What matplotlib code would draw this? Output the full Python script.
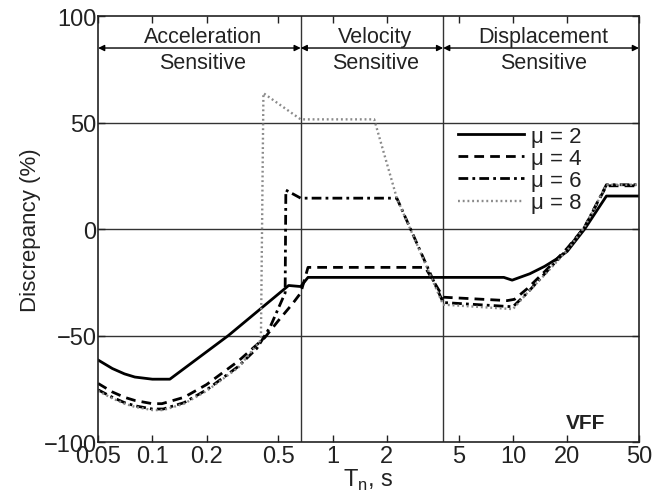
import matplotlib
matplotlib.use("Agg")
import matplotlib.pyplot as plt
from matplotlib.ticker import FixedLocator, FixedFormatter, NullLocator

plt.rcParams["font.family"] = ["Liberation Sans", "DejaVu Sans"]
plt.rcParams["mathtext.fontset"] = "custom"
plt.rcParams["mathtext.rm"] = "Liberation Sans"

# period values (s) and discrepancy (%)
t_mu2 = [0.05, 0.06, 0.07, 0.08, 0.1, 0.125, 0.264, 0.57, 0.665, 0.73, 8.9, 9.9, 12.4, 15, 17.5, 20, 25, 33, 50]
d_mu2 = [-61.5, -65.5, -68, -69.5, -70.5, -70.5, -50, -26.5, -27, -22.7, -22.7, -24, -21, -17.5, -14, -10.5, 0, 15.5, 15.5]

t_mu4 = [0.05, 0.06, 0.07, 0.08, 0.1, 0.113, 0.15, 0.2, 0.3, 0.42, 0.5, 0.6, 0.665, 0.73, 3.26, 4.1, 9.3, 10.2, 12, 15, 20, 25, 33, 50]
d_mu4 = [-72.5, -76.5, -79, -80.5, -82, -82, -79, -73, -62, -51, -43, -35, -30, -18, -18, -32, -33.6, -33, -28, -20, -9, 1, 20.3, 20.3]

t_mu6 = [0.05, 0.06, 0.07, 0.08, 0.1, 0.115, 0.15, 0.2, 0.3, 0.38, 0.45, 0.545, 0.55, 0.665, 2.27, 4.1, 10, 12, 15, 20, 25, 33, 50]
d_mu6 = [-75.5, -79, -81.5, -83, -84.5, -84.5, -81.5, -75.5, -64.5, -56, -46, -30, 18.3, 14.5, 14.5, -34.5, -36.5, -30, -21, -9.5, 1, 20.8, 20.8]

t_mu8 = [0.05, 0.06, 0.07, 0.08, 0.1, 0.115, 0.15, 0.2, 0.3, 0.40, 0.413, 0.665, 1.7, 2.27, 4.1, 10, 12, 15, 20, 25, 33, 50]
d_mu8 = [-76, -79.5, -82, -83.5, -85, -85, -82, -76, -65, -52, 63.8, 51.5, 51.5, 14.5, -35.5, -37.6, -30, -21.5, -10, 1, 20.8, 20.8]

region_bounds = [0.05, 0.665, 4.1, 50]
region_names = [("Acceleration", "Sensitive"), ("Velocity", "Sensitive"), ("Displacement", "Sensitive")]
region_centers = [0.19, 1.72, 14.8]

x_ticks = [0.05, 0.1, 0.2, 0.5, 1, 2, 5, 10, 20, 50]
x_tick_labels = ["0.05", "0.1", "0.2", "0.5", "1", "2", "5", "10", "20", "50"]
y_ticks = [-100, -50, 0, 50, 100]

fig = plt.figure(figsize=(6.54, 5.02), dpi=100)
ax = fig.add_axes([0.150, 0.1175, 0.827, 0.8485])

ax.plot(t_mu2, d_mu2, color="black", lw=2.0, ls="-", label="\u03bc = 2")
ax.plot(t_mu4, d_mu4, color="black", lw=2.0, ls=(0, (3.5, 2.2)), label="\u03bc = 4")
ax.plot(t_mu6, d_mu6, color="black", lw=2.0, ls=(0, (3.5, 1.5, 1, 1.5)), label="\u03bc = 6")
ax.plot(t_mu8, d_mu8, color="#8a8a8a", lw=1.7, ls=(0, (0.8, 1.2)), label="\u03bc = 8")

ax.set_xscale("log")
ax.set_xlim(0.05, 50)
ax.set_ylim(-100, 100)

# grid and region dividers
for yv in [-50, 0, 50]:
    ax.axhline(yv, color="#333333", lw=1.0, zorder=0)
for xv in region_bounds[1:-1]:
    ax.axvline(xv, color="#333333", lw=1.0, zorder=0)

# region arrows and names
for i, (top, bottom) in enumerate(region_names):
    ax.annotate("", xy=(region_bounds[i], 85), xytext=(region_bounds[i + 1], 85),
                arrowprops=dict(arrowstyle="<|-|>", color="black", lw=1.0,
                                mutation_scale=9, shrinkA=0, shrinkB=0))
    ax.text(region_centers[i], 90.5, top, ha="center", va="center", fontsize=15.5, color="#222222")
    ax.text(region_centers[i], 78.0, bottom, ha="center", va="center", fontsize=15.5, color="#222222")

ax.xaxis.set_major_locator(FixedLocator(x_ticks))
ax.xaxis.set_major_formatter(FixedFormatter(x_tick_labels))
ax.xaxis.set_minor_locator(NullLocator())
ax.set_yticks(y_ticks)
ax.tick_params(axis="both", which="major", direction="in", top=True, right=True,
               length=5, width=1, labelsize=17, pad=2, colors="#222222")
ax.tick_params(axis="y", pad=1)

for sp in ax.spines.values():
    sp.set_linewidth(1.2)
    sp.set_color("#222222")

ax.set_xlabel(r"T$_\mathregular{n}$, s", fontsize=17, labelpad=0, color="#222222")
ax.set_ylabel("Discrepancy (%)", fontsize=16, labelpad=2, color="#222222")

ax.text(0.902, 0.045, "VFF", transform=ax.transAxes, ha="center", va="center",
        fontsize=15, fontweight="bold", color="#222222")

leg = ax.legend(loc="upper left", bbox_to_anchor=(0.665, 0.742), frameon=False,
                fontsize=16, handlelength=3.0, handletextpad=0.3, labelspacing=0.05,
                borderpad=0, borderaxespad=0)
for t in leg.get_texts():
    t.set_color("#222222")

fig.savefig("out.png", dpi=100)
